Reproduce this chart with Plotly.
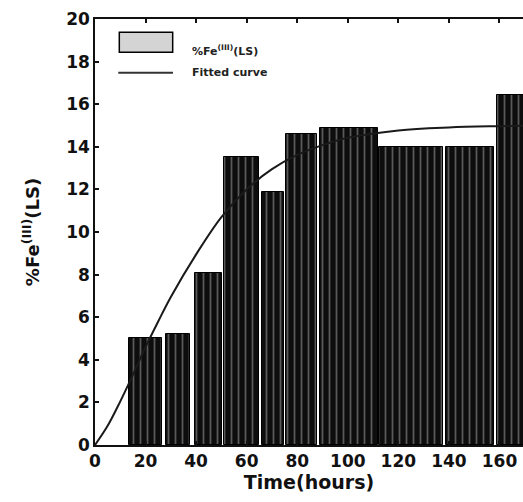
import plotly.graph_objects as go

# Bar edges (hours) and heights (%Fe(III)(LS))
bar_left = [13.4, 27.9, 39.4, 51.0, 66.2, 75.7, 88.9, 112.4, 138.8, 158.9]
bar_right = [26.6, 37.4, 50.2, 64.9, 74.8, 88.0, 111.8, 137.7, 157.8, 179.0]
bar_values = [5.03, 5.19, 8.07, 13.5, 11.9, 14.6, 14.88, 13.98, 14.0, 16.43]

# Fitted curve points
curve_t = [0, 5, 10, 15, 20, 25, 30, 40, 50, 60, 70, 80, 90, 100, 120, 140, 160, 170]
curve_y = [0, 0.9, 2.05, 3.3, 4.6, 5.8, 6.95, 8.95, 10.7, 12.0, 12.95, 13.62, 14.08, 14.42, 14.77, 14.91, 14.97, 14.99]

x_ticks = [0, 20, 40, 60, 80, 100, 120, 140, 160]
y_ticks = [0, 2, 4, 6, 8, 10, 12, 14, 16, 18, 20]

bar_x = [(l + r) / 2 for l, r in zip(bar_left, bar_right)]
bar_w = [r - l for l, r in zip(bar_left, bar_right)]

FONT = "DejaVu Sans"

fig = go.Figure()
fig.add_trace(go.Bar(
    x=bar_x, y=bar_values, width=bar_w,
    marker=dict(color="#111111", line=dict(color="#000000", width=1),
                pattern=dict(shape="|", fillmode="replace", bgcolor="#0d0d0d",
                             fgcolor="#5a5a5a", size=7, solidity=0.25)),
    showlegend=False,
))
fig.add_trace(go.Scatter(
    x=curve_t, y=curve_y, mode="lines",
    line=dict(color="#1a1a1a", width=2, shape="spline"),
    showlegend=False,
))

# Legend drawn manually
fig.add_shape(type="rect", xref="paper", yref="paper",
              x0=0.0568, x1=0.1815, y0=0.9219, y1=0.9688,
              fillcolor="#d4d4d4", line=dict(color="#000000", width=1.5))
fig.add_shape(type="line", xref="paper", yref="paper",
              x0=0.0544, x1=0.1822, y0=0.874, y1=0.874,
              line=dict(color="#333333", width=2))
fig.add_annotation(xref="paper", yref="paper", x=0.222, y=0.925,
                   xanchor="left", yanchor="middle", showarrow=False,
                   text="%Fe<sup>(III)</sup>(LS)",
                   font=dict(family=FONT, size=11, color="#222222", weight="bold"))
fig.add_annotation(xref="paper", yref="paper", x=0.222, y=0.874,
                   xanchor="left", yanchor="middle", showarrow=False,
                   text="Fitted curve",
                   font=dict(family=FONT, size=11, color="#222222", weight="bold"))

fig.update_layout(
    width=523, height=502,
    margin=dict(l=95, r=0, t=19, b=57),
    paper_bgcolor="white", plot_bgcolor="white",
    bargap=0,
    font=dict(family=FONT, color="#111111"),
)
fig.update_xaxes(
    range=[0, 169.3], tickvals=x_ticks, ticktext=[str(v) for v in x_ticks],
    showgrid=False, zeroline=False,
    showline=True, linecolor="#111111", linewidth=1.5, mirror="ticks",
    ticks="inside", ticklen=4, tickwidth=1.5, tickcolor="#111111",
    tickfont=dict(family=FONT, size=17, weight="bold"),
    title=dict(text="Time(hours)", font=dict(family=FONT, size=19, weight="bold"), standoff=4),
)
fig.update_yaxes(
    range=[0, 20], tickvals=y_ticks, ticktext=[str(v) for v in y_ticks],
    showgrid=False, zeroline=False,
    showline=True, linecolor="#111111", linewidth=1.5, mirror=False,
    ticks="inside", ticklen=4, tickwidth=1.5, tickcolor="#111111",
    tickfont=dict(family=FONT, size=17, weight="bold"),
    title=dict(text="%Fe<sup>(III)</sup>(LS)",
               font=dict(family=FONT, size=18, weight="bold"), standoff=22),
)

fig.write_html("out.html")
